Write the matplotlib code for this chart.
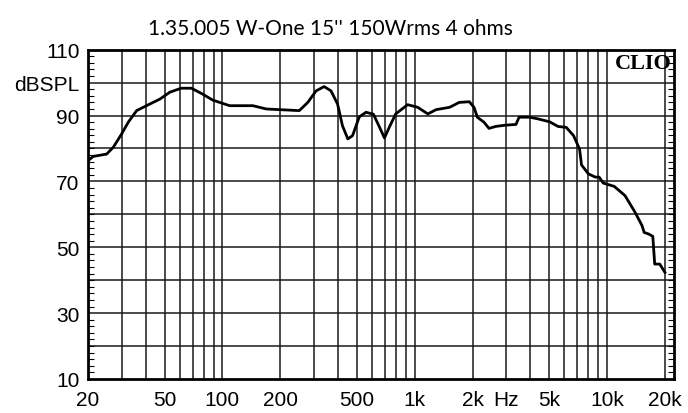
import matplotlib
matplotlib.use("Agg")
import matplotlib.pyplot as plt
import numpy as np
from matplotlib.ticker import FixedLocator, NullFormatter, MultipleLocator

title = "1.35.005 W-One 15'' 150Wrms 4 ohms"
freq = [20, 21.3, 25.0, 27.1, 29.9, 32.4, 35.8, 40.3, 47.3, 53.3, 61, 69, 79, 89,
        109, 144, 169, 198, 251, 278, 307, 338, 367, 397, 421, 449, 475, 515, 558,
        610, 657, 696, 737, 796, 919, 1037, 1170, 1293, 1518, 1704, 1923, 2034,
        2116, 2290, 2434, 2640, 2980, 3360, 3490, 3950, 4370, 5030, 5560, 6140,
        6700, 7200, 7370, 8000, 8700, 9100, 9560, 10900, 12400, 14000, 15200,
        15600, 16500, 17300, 17700, 18800, 20000]
spl = [76.3, 77.6, 78.3, 80.4, 84.4, 88.0, 91.5, 93.0, 95.0, 97.1, 98.3, 98.3, 96.5,
       94.7, 93.0, 93.0, 92.0, 91.8, 91.5, 94.0, 97.5, 98.8, 97.5, 93.5, 86.9, 82.9,
       83.9, 89.6, 91.0, 90.4, 86.4, 83.2, 86.4, 90.5, 93.3, 92.5, 90.5, 91.8, 92.5,
       94.0, 94.2, 92.5, 89.5, 88.0, 86.1, 86.7, 87.1, 87.3, 89.5, 89.5, 89.0, 88.1,
       86.7, 86.4, 83.9, 79.8, 75.0, 72.3, 71.3, 71.3, 69.5, 68.5, 65.7, 60.6, 56.6,
       54.5, 54.0, 53.3, 44.9, 44.9, 42.4]

xtick_vals = [20, 50, 100, 200, 500, 1000, 2000, 3000, 5000, 10000, 20000]
xtick_labels = ["20", "50", "100", "200", "500", "1k", "2k", "Hz", "5k", "10k", "20k"]
ytick_vals = [10, 30, 50, 70, 90, 100, 110]
ytick_labels = ["10", "30", "50", "70", "90", "dBSPL", "110"]

fig = plt.figure(figsize=(6.88, 4.14), dpi=100)
ax = fig.add_axes([88/688, 1 - 380/414, (674-88)/688, (380-50.7)/414])
ax.set_xscale("log")
ax.set_xlim(20, 22300)
ax.set_ylim(10, 110)

# grid lines
grid_x = []
for dec in [10, 100, 1000, 10000]:
    for m in range(1, 10):
        v = dec * m
        if 20 <= v <= 20000 and not (dec == 10 and m == 1):
            grid_x.append(v)
for v in grid_x:
    ax.axvline(v, color="#1a1a1a", lw=1.1, zorder=1)
for v in range(20, 110, 10):
    ax.axhline(v, color="#1a1a1a", lw=1.1, zorder=1)

ax.plot(freq, spl, color="black", lw=2.0, zorder=3)

ax.xaxis.set_major_locator(FixedLocator(xtick_vals))
ax.set_xticklabels(xtick_labels)
ax.xaxis.set_minor_locator(FixedLocator([]))
ax.xaxis.set_minor_formatter(NullFormatter())
ax.yaxis.set_major_locator(FixedLocator(ytick_vals))
ax.set_yticklabels(ytick_labels)
ax.yaxis.set_minor_locator(MultipleLocator(2))

ax.tick_params(axis="x", which="both", length=0, pad=8, labelsize=15)
ax.tick_params(axis="y", which="major", length=0, pad=6, labelsize=15)
ax.tick_params(axis="y", which="minor", direction="in", length=4, width=0.8,
               left=True, right=True)
for lab in ax.get_xticklabels() + ax.get_yticklabels():
    lab.set_fontfamily("Liberation Sans")

for s in ax.spines.values():
    s.set_linewidth(2.0)
    s.set_color("black")
    s.set_zorder(4)

ax.text(0.997, 0.99, "CLIO", transform=ax.transAxes, ha="right", va="top",
        fontsize=16, fontweight="bold", family="Liberation Serif", zorder=5)

fig.text(330/688, 1 - 29/414, title, ha="center", va="center", fontsize=15,
         family="Lato")

fig.savefig("out.png", dpi=100)
